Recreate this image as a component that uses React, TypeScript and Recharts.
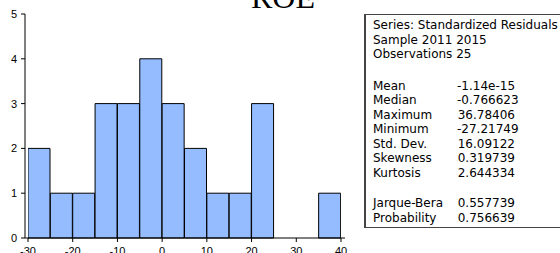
import React from 'react';
import { ComposedChart, Bar, XAxis, YAxis } from 'recharts';

// Histogram of standardized residuals (bins of width 5)
const binStarts = [-30, -25, -20, -15, -10, -5, 0, 5, 10, 15, 20, 25, 30, 35];
const binCounts = [2, 1, 1, 3, 3, 4, 3, 2, 1, 1, 3, 0, 0, 1];
const binWidth = 5;
const xTicks = [-30, -20, -10, 0, 10, 20, 30, 40];
const yTicks = [0, 1, 2, 3, 4, 5];

const statsHeader = ['Series: Standardized Residuals', 'Sample 2011 2015', 'Observations 25'];
const statNames = ['Mean', 'Median', 'Maximum', 'Minimum', 'Std. Dev.', 'Skewness', 'Kurtosis'];
const statValues = ['-1.14e-15', '-0.766623', '36.78406', '-27.21749', '16.09122', '0.319739', '2.644334'];
const testNames = ['Jarque-Bera', 'Probability'];
const testValues = ['0.557739', '0.756639'];

const data = binStarts.map((s, i) => ({ mid: s + binWidth / 2, count: binCounts[i] }));

const font = '"Liberation Sans", Arial, sans-serif';

export default function App() {
  const row = (name: string, value: string, key: string) => (
    <div key={key} style={{ display: 'flex', height: 14.5, whiteSpace: 'nowrap' }}>
      <span style={{ width: 84 }}>{name}</span>
      <span style={{ width: 58, textAlign: 'right' }}>{value}</span>
    </div>
  );

  return (
    <div style={{ position: 'absolute', left: 0, top: 0, width: 560, height: 253, overflow: 'hidden', background: '#fff' }}>
      <ComposedChart
        width={560}
        height={253}
        data={data}
        barCategoryGap={0}
        barGap={0}
        margin={{ top: 14, right: 215, bottom: 0, left: 0 }}
      >
        <text x={283} y={8} textAnchor="middle" fontFamily='"Liberation Serif", "Times New Roman", serif' fontSize={32} fill="#000">
          ROE
        </text>
        <XAxis
          dataKey="mid"
          type="number"
          domain={[-30, 40]}
          ticks={xTicks}
          allowDataOverflow
          padding={{ left: 3, right: 4 }}
          height={15}
          axisLine={{ stroke: '#000' }}
          tickLine={{ stroke: '#000' }}
          tickSize={4}
          tick={{ fontSize: 11, fill: '#000', fontFamily: font }}
          tickMargin={5}
        />
        <XAxis xAxisId="top" orientation="top" type="number" domain={[0, 1]} height={0} tick={false} tickLine={false} axisLine={{ stroke: '#000' }} />
        <YAxis
          type="number"
          domain={[0, 5]}
          ticks={yTicks}
          width={25}
          axisLine={{ stroke: '#000' }}
          tickLine={{ stroke: '#000' }}
          tickSize={4}
          tickMargin={4}
          tick={{ fontSize: 11, fill: '#000', fontFamily: font }}
        />
        <YAxis yAxisId="right" orientation="right" domain={[0, 1]} width={0} tick={false} tickLine={false} axisLine={{ stroke: '#000' }} />
        <Bar dataKey="count" fill="#94bcff" stroke="#000" strokeWidth={1} isAnimationActive={false} />
      </ComposedChart>
      <div
        style={{
          position: 'absolute',
          left: 364,
          top: 14,
          width: 210,
          height: 214,
          border: '1px solid #444',
          borderLeftWidth: 2,
          fontFamily: '"DejaVu Sans", sans-serif',
          fontSize: 12,
          lineHeight: '14.5px',
          color: '#000',
          padding: '3px 0 0 7px',
          boxSizing: 'border-box',
        }}
      >
        {statsHeader.map((h) => (
          <div key={h} style={{ height: 14.5, whiteSpace: 'nowrap' }}>{h}</div>
        ))}
        <div style={{ height: 17 }} />
        {statNames.map((n, i) => row(n, statValues[i], n))}
        <div style={{ height: 16 }} />
        {testNames.map((n, i) => row(n, testValues[i], n))}
      </div>
    </div>
  );
}
